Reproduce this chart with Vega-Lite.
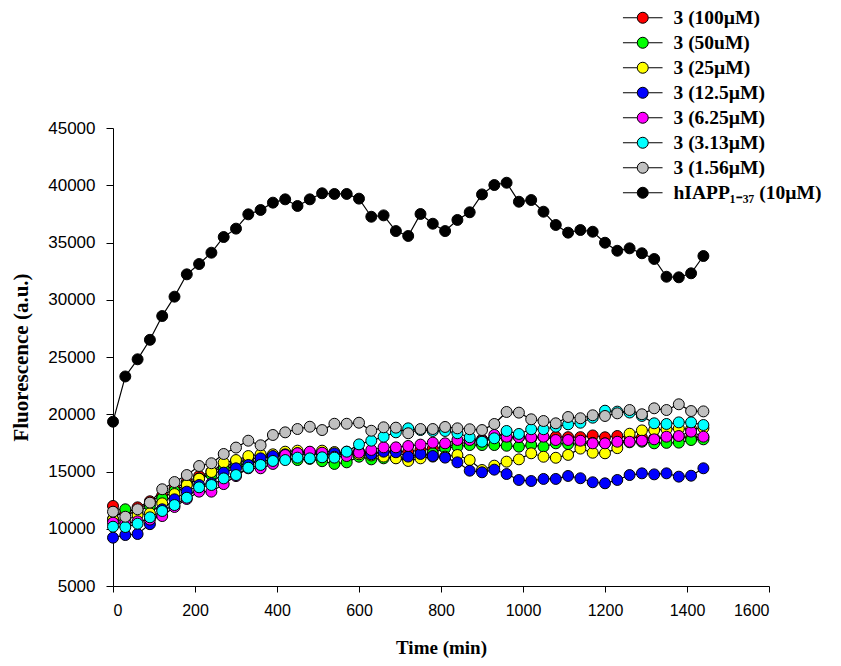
{
"$schema": "https://vega.github.io/schema/vega-lite/v6.json",
"width": 656, "height": 458,
"autosize": "none",
"padding": {"left": 113, "top": 128, "right": 72, "bottom": 80},
"config": {"view": {"stroke": null}, "axis": {"grid": false, "domainColor": "black", "tickColor": "black", "labelColor": "black", "titleColor": "black", "labelFont": "Liberation Sans", "labelFontSize": 16, "titleFont": "Liberation Serif", "titleFontWeight": "bold", "titleFontSize": 19}},
"datasets": {"d": [
{"s":"3 (100µM)","t":0,"v":11990},{"s":"3 (100µM)","t":30,"v":11400},{"s":"3 (100µM)","t":60,"v":11870},{"s":"3 (100µM)","t":90,"v":12400},{"s":"3 (100µM)","t":120,"v":12900},{"s":"3 (100µM)","t":150,"v":13500},{"s":"3 (100µM)","t":180,"v":14100},{"s":"3 (100µM)","t":210,"v":14610},{"s":"3 (100µM)","t":240,"v":15000},{"s":"3 (100µM)","t":270,"v":15400},{"s":"3 (100µM)","t":300,"v":15800},{"s":"3 (100µM)","t":330,"v":16000},{"s":"3 (100µM)","t":360,"v":16300},{"s":"3 (100µM)","t":390,"v":16400},{"s":"3 (100µM)","t":420,"v":16500},{"s":"3 (100µM)","t":450,"v":16400},{"s":"3 (100µM)","t":480,"v":16600},{"s":"3 (100µM)","t":510,"v":16500},{"s":"3 (100µM)","t":540,"v":16500},{"s":"3 (100µM)","t":570,"v":16600},{"s":"3 (100µM)","t":600,"v":16700},{"s":"3 (100µM)","t":630,"v":16600},{"s":"3 (100µM)","t":660,"v":16700},{"s":"3 (100µM)","t":690,"v":16800},{"s":"3 (100µM)","t":720,"v":16700},{"s":"3 (100µM)","t":750,"v":16900},{"s":"3 (100µM)","t":780,"v":17000},{"s":"3 (100µM)","t":810,"v":17100},{"s":"3 (100µM)","t":840,"v":17400},{"s":"3 (100µM)","t":870,"v":17600},{"s":"3 (100µM)","t":900,"v":17800},{"s":"3 (100µM)","t":930,"v":17900},{"s":"3 (100µM)","t":960,"v":17900},{"s":"3 (100µM)","t":990,"v":18000},{"s":"3 (100µM)","t":1020,"v":17900},{"s":"3 (100µM)","t":1050,"v":18000},{"s":"3 (100µM)","t":1080,"v":18040},{"s":"3 (100µM)","t":1110,"v":18000},{"s":"3 (100µM)","t":1140,"v":18000},{"s":"3 (100µM)","t":1170,"v":18150},{"s":"3 (100µM)","t":1200,"v":17990},{"s":"3 (100µM)","t":1230,"v":18100},{"s":"3 (100µM)","t":1260,"v":18000},{"s":"3 (100µM)","t":1290,"v":17950},{"s":"3 (100µM)","t":1320,"v":17900},{"s":"3 (100µM)","t":1350,"v":17950},{"s":"3 (100µM)","t":1380,"v":18000},{"s":"3 (100µM)","t":1410,"v":17950},{"s":"3 (100µM)","t":1440,"v":18000},
{"s":"3 (50uM)","t":0,"v":10850},{"s":"3 (50uM)","t":30,"v":11700},{"s":"3 (50uM)","t":60,"v":11500},{"s":"3 (50uM)","t":90,"v":11990},{"s":"3 (50uM)","t":120,"v":12660},{"s":"3 (50uM)","t":150,"v":13300},{"s":"3 (50uM)","t":180,"v":13900},{"s":"3 (50uM)","t":210,"v":14400},{"s":"3 (50uM)","t":240,"v":14700},{"s":"3 (50uM)","t":270,"v":15200},{"s":"3 (50uM)","t":300,"v":15500},{"s":"3 (50uM)","t":330,"v":15700},{"s":"3 (50uM)","t":360,"v":15900},{"s":"3 (50uM)","t":390,"v":16000},{"s":"3 (50uM)","t":420,"v":16100},{"s":"3 (50uM)","t":450,"v":16000},{"s":"3 (50uM)","t":480,"v":16100},{"s":"3 (50uM)","t":510,"v":15900},{"s":"3 (50uM)","t":540,"v":15660},{"s":"3 (50uM)","t":570,"v":15800},{"s":"3 (50uM)","t":600,"v":16290},{"s":"3 (50uM)","t":630,"v":16060},{"s":"3 (50uM)","t":660,"v":16150},{"s":"3 (50uM)","t":690,"v":16200},{"s":"3 (50uM)","t":720,"v":16100},{"s":"3 (50uM)","t":750,"v":16400},{"s":"3 (50uM)","t":780,"v":16600},{"s":"3 (50uM)","t":810,"v":17030},{"s":"3 (50uM)","t":840,"v":17170},{"s":"3 (50uM)","t":870,"v":17310},{"s":"3 (50uM)","t":900,"v":17310},{"s":"3 (50uM)","t":930,"v":17310},{"s":"3 (50uM)","t":960,"v":17250},{"s":"3 (50uM)","t":990,"v":17170},{"s":"3 (50uM)","t":1020,"v":17310},{"s":"3 (50uM)","t":1050,"v":17170},{"s":"3 (50uM)","t":1080,"v":17460},{"s":"3 (50uM)","t":1110,"v":17400},{"s":"3 (50uM)","t":1140,"v":17400},{"s":"3 (50uM)","t":1170,"v":17500},{"s":"3 (50uM)","t":1200,"v":17450},{"s":"3 (50uM)","t":1230,"v":17500},{"s":"3 (50uM)","t":1260,"v":17550},{"s":"3 (50uM)","t":1290,"v":17600},{"s":"3 (50uM)","t":1320,"v":17460},{"s":"3 (50uM)","t":1350,"v":17500},{"s":"3 (50uM)","t":1380,"v":17520},{"s":"3 (50uM)","t":1410,"v":17750},{"s":"3 (50uM)","t":1440,"v":17810},
{"s":"3 (25µM)","t":0,"v":10800},{"s":"3 (25µM)","t":30,"v":10700},{"s":"3 (25µM)","t":60,"v":11200},{"s":"3 (25µM)","t":90,"v":11350},{"s":"3 (25µM)","t":120,"v":12220},{"s":"3 (25µM)","t":150,"v":13030},{"s":"3 (25µM)","t":180,"v":13820},{"s":"3 (25µM)","t":210,"v":14370},{"s":"3 (25µM)","t":240,"v":14960},{"s":"3 (25µM)","t":270,"v":15770},{"s":"3 (25µM)","t":300,"v":16000},{"s":"3 (25µM)","t":330,"v":16350},{"s":"3 (25µM)","t":360,"v":16500},{"s":"3 (25µM)","t":390,"v":16500},{"s":"3 (25µM)","t":420,"v":16730},{"s":"3 (25µM)","t":450,"v":16820},{"s":"3 (25µM)","t":480,"v":16700},{"s":"3 (25µM)","t":510,"v":16820},{"s":"3 (25µM)","t":540,"v":16700},{"s":"3 (25µM)","t":570,"v":16600},{"s":"3 (25µM)","t":600,"v":16500},{"s":"3 (25µM)","t":630,"v":16400},{"s":"3 (25µM)","t":660,"v":16300},{"s":"3 (25µM)","t":690,"v":16150},{"s":"3 (25µM)","t":720,"v":15920},{"s":"3 (25µM)","t":750,"v":16150},{"s":"3 (25µM)","t":780,"v":16300},{"s":"3 (25µM)","t":810,"v":16300},{"s":"3 (25µM)","t":840,"v":16440},{"s":"3 (25µM)","t":870,"v":16000},{"s":"3 (25µM)","t":900,"v":15130},{"s":"3 (25µM)","t":930,"v":15510},{"s":"3 (25µM)","t":960,"v":15860},{"s":"3 (25µM)","t":990,"v":16060},{"s":"3 (25µM)","t":1020,"v":16590},{"s":"3 (25µM)","t":1050,"v":16290},{"s":"3 (25µM)","t":1080,"v":16200},{"s":"3 (25µM)","t":1110,"v":16450},{"s":"3 (25µM)","t":1140,"v":17000},{"s":"3 (25µM)","t":1170,"v":16640},{"s":"3 (25µM)","t":1200,"v":16590},{"s":"3 (25µM)","t":1230,"v":17040},{"s":"3 (25µM)","t":1260,"v":18300},{"s":"3 (25µM)","t":1290,"v":18590},{"s":"3 (25µM)","t":1320,"v":18620},{"s":"3 (25µM)","t":1350,"v":18700},{"s":"3 (25µM)","t":1380,"v":18750},{"s":"3 (25µM)","t":1410,"v":18700},{"s":"3 (25µM)","t":1440,"v":18800},
{"s":"3 (12.5µM)","t":0,"v":9220},{"s":"3 (12.5µM)","t":30,"v":9450},{"s":"3 (12.5µM)","t":60,"v":9540},{"s":"3 (12.5µM)","t":90,"v":10400},{"s":"3 (12.5µM)","t":120,"v":11700},{"s":"3 (12.5µM)","t":150,"v":12570},{"s":"3 (12.5µM)","t":180,"v":13240},{"s":"3 (12.5µM)","t":210,"v":13820},{"s":"3 (12.5µM)","t":240,"v":13970},{"s":"3 (12.5µM)","t":270,"v":14900},{"s":"3 (12.5µM)","t":300,"v":15280},{"s":"3 (12.5µM)","t":330,"v":15570},{"s":"3 (12.5µM)","t":360,"v":16150},{"s":"3 (12.5µM)","t":390,"v":16350},{"s":"3 (12.5µM)","t":420,"v":16500},{"s":"3 (12.5µM)","t":450,"v":16590},{"s":"3 (12.5µM)","t":480,"v":16640},{"s":"3 (12.5µM)","t":510,"v":16440},{"s":"3 (12.5µM)","t":540,"v":16590},{"s":"3 (12.5µM)","t":570,"v":16730},{"s":"3 (12.5µM)","t":600,"v":16730},{"s":"3 (12.5µM)","t":630,"v":16500},{"s":"3 (12.5µM)","t":660,"v":16730},{"s":"3 (12.5µM)","t":690,"v":16680},{"s":"3 (12.5µM)","t":720,"v":16300},{"s":"3 (12.5µM)","t":750,"v":16530},{"s":"3 (12.5µM)","t":780,"v":16350},{"s":"3 (12.5µM)","t":810,"v":16210},{"s":"3 (12.5µM)","t":840,"v":15800},{"s":"3 (12.5µM)","t":870,"v":15070},{"s":"3 (12.5µM)","t":900,"v":14930},{"s":"3 (12.5µM)","t":930,"v":15160},{"s":"3 (12.5µM)","t":960,"v":14780},{"s":"3 (12.5µM)","t":990,"v":14260},{"s":"3 (12.5µM)","t":1020,"v":14170},{"s":"3 (12.5µM)","t":1050,"v":14350},{"s":"3 (12.5µM)","t":1080,"v":14350},{"s":"3 (12.5µM)","t":1110,"v":14610},{"s":"3 (12.5µM)","t":1140,"v":14410},{"s":"3 (12.5µM)","t":1170,"v":14060},{"s":"3 (12.5µM)","t":1200,"v":13970},{"s":"3 (12.5µM)","t":1230,"v":14260},{"s":"3 (12.5µM)","t":1260,"v":14690},{"s":"3 (12.5µM)","t":1290,"v":14840},{"s":"3 (12.5µM)","t":1320,"v":14750},{"s":"3 (12.5µM)","t":1350,"v":14840},{"s":"3 (12.5µM)","t":1380,"v":14550},{"s":"3 (12.5µM)","t":1410,"v":14630},{"s":"3 (12.5µM)","t":1440,"v":15280},
{"s":"3 (6.25µM)","t":0,"v":10530},{"s":"3 (6.25µM)","t":30,"v":10440},{"s":"3 (6.25µM)","t":60,"v":10650},{"s":"3 (6.25µM)","t":90,"v":10800},{"s":"3 (6.25µM)","t":120,"v":11110},{"s":"3 (6.25µM)","t":150,"v":11900},{"s":"3 (6.25µM)","t":180,"v":12600},{"s":"3 (6.25µM)","t":210,"v":13240},{"s":"3 (6.25µM)","t":240,"v":13240},{"s":"3 (6.25µM)","t":270,"v":13900},{"s":"3 (6.25µM)","t":300,"v":14600},{"s":"3 (6.25µM)","t":330,"v":15280},{"s":"3 (6.25µM)","t":360,"v":15280},{"s":"3 (6.25µM)","t":390,"v":15660},{"s":"3 (6.25µM)","t":420,"v":16440},{"s":"3 (6.25µM)","t":450,"v":16600},{"s":"3 (6.25µM)","t":480,"v":16730},{"s":"3 (6.25µM)","t":510,"v":16640},{"s":"3 (6.25µM)","t":540,"v":16290},{"s":"3 (6.25µM)","t":570,"v":16350},{"s":"3 (6.25µM)","t":600,"v":16640},{"s":"3 (6.25µM)","t":630,"v":16880},{"s":"3 (6.25µM)","t":660,"v":17110},{"s":"3 (6.25µM)","t":690,"v":17110},{"s":"3 (6.25µM)","t":720,"v":17230},{"s":"3 (6.25µM)","t":750,"v":17350},{"s":"3 (6.25µM)","t":780,"v":17520},{"s":"3 (6.25µM)","t":810,"v":17460},{"s":"3 (6.25µM)","t":840,"v":17750},{"s":"3 (6.25µM)","t":870,"v":17750},{"s":"3 (6.25µM)","t":900,"v":17690},{"s":"3 (6.25µM)","t":930,"v":18190},{"s":"3 (6.25µM)","t":960,"v":18040},{"s":"3 (6.25µM)","t":990,"v":18000},{"s":"3 (6.25µM)","t":1020,"v":17990},{"s":"3 (6.25µM)","t":1050,"v":18040},{"s":"3 (6.25µM)","t":1080,"v":17750},{"s":"3 (6.25µM)","t":1110,"v":17750},{"s":"3 (6.25µM)","t":1140,"v":17690},{"s":"3 (6.25µM)","t":1170,"v":17460},{"s":"3 (6.25µM)","t":1200,"v":17460},{"s":"3 (6.25µM)","t":1230,"v":17600},{"s":"3 (6.25µM)","t":1260,"v":17600},{"s":"3 (6.25µM)","t":1290,"v":17690},{"s":"3 (6.25µM)","t":1320,"v":17810},{"s":"3 (6.25µM)","t":1350,"v":18040},{"s":"3 (6.25µM)","t":1380,"v":18100},{"s":"3 (6.25µM)","t":1410,"v":18480},{"s":"3 (6.25µM)","t":1440,"v":18040},
{"s":"3 (3.13µM)","t":0,"v":10180},{"s":"3 (3.13µM)","t":30,"v":10150},{"s":"3 (3.13µM)","t":60,"v":10440},{"s":"3 (3.13µM)","t":90,"v":11000},{"s":"3 (3.13µM)","t":120,"v":11550},{"s":"3 (3.13µM)","t":150,"v":12070},{"s":"3 (3.13µM)","t":180,"v":12710},{"s":"3 (3.13µM)","t":210,"v":13620},{"s":"3 (3.13µM)","t":240,"v":13820},{"s":"3 (3.13µM)","t":270,"v":14400},{"s":"3 (3.13µM)","t":300,"v":14690},{"s":"3 (3.13µM)","t":330,"v":15330},{"s":"3 (3.13µM)","t":360,"v":15570},{"s":"3 (3.13µM)","t":390,"v":15920},{"s":"3 (3.13µM)","t":420,"v":16000},{"s":"3 (3.13µM)","t":450,"v":16210},{"s":"3 (3.13µM)","t":480,"v":16150},{"s":"3 (3.13µM)","t":510,"v":16240},{"s":"3 (3.13µM)","t":540,"v":16210},{"s":"3 (3.13µM)","t":570,"v":16730},{"s":"3 (3.13µM)","t":600,"v":17370},{"s":"3 (3.13µM)","t":630,"v":17690},{"s":"3 (3.13µM)","t":660,"v":18040},{"s":"3 (3.13µM)","t":690,"v":18420},{"s":"3 (3.13µM)","t":720,"v":18770},{"s":"3 (3.13µM)","t":750,"v":18620},{"s":"3 (3.13µM)","t":780,"v":18540},{"s":"3 (3.13µM)","t":810,"v":18540},{"s":"3 (3.13µM)","t":840,"v":18340},{"s":"3 (3.13µM)","t":870,"v":17990},{"s":"3 (3.13µM)","t":900,"v":17600},{"s":"3 (3.13µM)","t":930,"v":17900},{"s":"3 (3.13µM)","t":960,"v":18540},{"s":"3 (3.13µM)","t":990,"v":18280},{"s":"3 (3.13µM)","t":1020,"v":18690},{"s":"3 (3.13µM)","t":1050,"v":18690},{"s":"3 (3.13µM)","t":1080,"v":18910},{"s":"3 (3.13µM)","t":1110,"v":19120},{"s":"3 (3.13µM)","t":1140,"v":19260},{"s":"3 (3.13µM)","t":1170,"v":19700},{"s":"3 (3.13µM)","t":1200,"v":20310},{"s":"3 (3.13µM)","t":1230,"v":20230},{"s":"3 (3.13µM)","t":1260,"v":20150},{"s":"3 (3.13µM)","t":1290,"v":19850},{"s":"3 (3.13µM)","t":1320,"v":19210},{"s":"3 (3.13µM)","t":1350,"v":19150},{"s":"3 (3.13µM)","t":1380,"v":19290},{"s":"3 (3.13µM)","t":1410,"v":19290},{"s":"3 (3.13µM)","t":1440,"v":19060},
{"s":"3 (1.56µM)","t":0,"v":11490},{"s":"3 (1.56µM)","t":30,"v":11050},{"s":"3 (1.56µM)","t":60,"v":11700},{"s":"3 (1.56µM)","t":90,"v":12280},{"s":"3 (1.56µM)","t":120,"v":13450},{"s":"3 (1.56µM)","t":150,"v":14080},{"s":"3 (1.56µM)","t":180,"v":14690},{"s":"3 (1.56µM)","t":210,"v":15480},{"s":"3 (1.56µM)","t":240,"v":15720},{"s":"3 (1.56µM)","t":270,"v":16530},{"s":"3 (1.56µM)","t":300,"v":17090},{"s":"3 (1.56µM)","t":330,"v":17690},{"s":"3 (1.56µM)","t":360,"v":17290},{"s":"3 (1.56µM)","t":390,"v":18190},{"s":"3 (1.56µM)","t":420,"v":18420},{"s":"3 (1.56µM)","t":450,"v":18710},{"s":"3 (1.56µM)","t":480,"v":18910},{"s":"3 (1.56µM)","t":510,"v":18620},{"s":"3 (1.56µM)","t":540,"v":19170},{"s":"3 (1.56µM)","t":570,"v":19170},{"s":"3 (1.56µM)","t":600,"v":19260},{"s":"3 (1.56µM)","t":630,"v":18560},{"s":"3 (1.56µM)","t":660,"v":18860},{"s":"3 (1.56µM)","t":690,"v":18830},{"s":"3 (1.56µM)","t":720,"v":18340},{"s":"3 (1.56µM)","t":750,"v":18710},{"s":"3 (1.56µM)","t":780,"v":18710},{"s":"3 (1.56µM)","t":810,"v":18890},{"s":"3 (1.56µM)","t":840,"v":18770},{"s":"3 (1.56µM)","t":870,"v":18690},{"s":"3 (1.56µM)","t":900,"v":18620},{"s":"3 (1.56µM)","t":930,"v":19150},{"s":"3 (1.56µM)","t":960,"v":20200},{"s":"3 (1.56µM)","t":990,"v":20140},{"s":"3 (1.56µM)","t":1020,"v":19560},{"s":"3 (1.56µM)","t":1050,"v":19410},{"s":"3 (1.56µM)","t":1080,"v":19210},{"s":"3 (1.56µM)","t":1110,"v":19760},{"s":"3 (1.56µM)","t":1140,"v":19650},{"s":"3 (1.56µM)","t":1170,"v":19910},{"s":"3 (1.56µM)","t":1200,"v":19850},{"s":"3 (1.56µM)","t":1230,"v":20080},{"s":"3 (1.56µM)","t":1260,"v":20370},{"s":"3 (1.56µM)","t":1290,"v":20000},{"s":"3 (1.56µM)","t":1320,"v":20520},{"s":"3 (1.56µM)","t":1350,"v":20370},{"s":"3 (1.56µM)","t":1380,"v":20870},{"s":"3 (1.56µM)","t":1410,"v":20280},{"s":"3 (1.56µM)","t":1440,"v":20250},
{"s":"hIAPP₁₋₃₇ (10µM)","t":0,"v":19350},{"s":"hIAPP₁₋₃₇ (10µM)","t":30,"v":23300},{"s":"hIAPP₁₋₃₇ (10µM)","t":60,"v":24800},{"s":"hIAPP₁₋₃₇ (10µM)","t":90,"v":26500},{"s":"hIAPP₁₋₃₇ (10µM)","t":120,"v":28580},{"s":"hIAPP₁₋₃₇ (10µM)","t":150,"v":30270},{"s":"hIAPP₁₋₃₇ (10µM)","t":180,"v":32220},{"s":"hIAPP₁₋₃₇ (10µM)","t":210,"v":33120},{"s":"hIAPP₁₋₃₇ (10µM)","t":240,"v":34110},{"s":"hIAPP₁₋₃₇ (10µM)","t":270,"v":35480},{"s":"hIAPP₁₋₃₇ (10µM)","t":300,"v":36210},{"s":"hIAPP₁₋₃₇ (10µM)","t":330,"v":37460},{"s":"hIAPP₁₋₃₇ (10µM)","t":360,"v":37840},{"s":"hIAPP₁₋₃₇ (10µM)","t":390,"v":38480},{"s":"hIAPP₁₋₃₇ (10µM)","t":420,"v":38770},{"s":"hIAPP₁₋₃₇ (10µM)","t":450,"v":38190},{"s":"hIAPP₁₋₃₇ (10µM)","t":480,"v":38770},{"s":"hIAPP₁₋₃₇ (10µM)","t":510,"v":39300},{"s":"hIAPP₁₋₃₇ (10µM)","t":540,"v":39240},{"s":"hIAPP₁₋₃₇ (10µM)","t":570,"v":39240},{"s":"hIAPP₁₋₃₇ (10µM)","t":600,"v":38830},{"s":"hIAPP₁₋₃₇ (10µM)","t":630,"v":37250},{"s":"hIAPP₁₋₃₇ (10µM)","t":660,"v":37370},{"s":"hIAPP₁₋₃₇ (10µM)","t":690,"v":36000},{"s":"hIAPP₁₋₃₇ (10µM)","t":720,"v":35570},{"s":"hIAPP₁₋₃₇ (10µM)","t":750,"v":37490},{"s":"hIAPP₁₋₃₇ (10µM)","t":780,"v":36640},{"s":"hIAPP₁₋₃₇ (10µM)","t":810,"v":36000},{"s":"hIAPP₁₋₃₇ (10µM)","t":840,"v":36970},{"s":"hIAPP₁₋₃₇ (10µM)","t":870,"v":37640},{"s":"hIAPP₁₋₃₇ (10µM)","t":900,"v":39200},{"s":"hIAPP₁₋₃₇ (10µM)","t":930,"v":40020},{"s":"hIAPP₁₋₃₇ (10µM)","t":960,"v":40220},{"s":"hIAPP₁₋₃₇ (10µM)","t":990,"v":38560},{"s":"hIAPP₁₋₃₇ (10µM)","t":1020,"v":38710},{"s":"hIAPP₁₋₃₇ (10µM)","t":1050,"v":37690},{"s":"hIAPP₁₋₃₇ (10µM)","t":1080,"v":36530},{"s":"hIAPP₁₋₃₇ (10µM)","t":1110,"v":35860},{"s":"hIAPP₁₋₃₇ (10µM)","t":1140,"v":36090},{"s":"hIAPP₁₋₃₇ (10µM)","t":1170,"v":35940},{"s":"hIAPP₁₋₃₇ (10µM)","t":1200,"v":34980},{"s":"hIAPP₁₋₃₇ (10µM)","t":1230,"v":34280},{"s":"hIAPP₁₋₃₇ (10µM)","t":1260,"v":34490},{"s":"hIAPP₁₋₃₇ (10µM)","t":1290,"v":34060},{"s":"hIAPP₁₋₃₇ (10µM)","t":1320,"v":33560},{"s":"hIAPP₁₋₃₇ (10µM)","t":1350,"v":32010},{"s":"hIAPP₁₋₃₇ (10µM)","t":1380,"v":31960},{"s":"hIAPP₁₋₃₇ (10µM)","t":1410,"v":32310},{"s":"hIAPP₁₋₃₇ (10µM)","t":1440,"v":33820}
]},
"data": {"name": "d"},
"encoding": {
  "x": {"field": "t", "type": "quantitative", "scale": {"domain": [0, 1600], "nice": false}, "axis": {"values": [0,200,400,600,800,1000,1200,1400,1600], "format": "d", "title": "Time (min)", "tickSize": 6, "labelPadding": 10, "titlePadding": 20}},
  "y": {"field": "v", "type": "quantitative", "scale": {"domain": [5000, 45000], "nice": false, "zero": false}, "axis": {"values": [5000,10000,15000,20000,25000,30000,35000,40000,45000], "format": "d", "title": "Fluorescence (a.u.)", "titleFontSize": 21, "labelFontSize": 17, "tickSize": 7, "labelPadding": 11, "titlePadding": 16}}
},
"layer": [
  {"mark": {"type": "line", "color": "black", "strokeWidth": 1.2}, "encoding": {"detail": {"field": "s"}}},
  {"mark": {"type": "point", "filled": true, "shape": "circle", "size": 120, "stroke": "black", "strokeWidth": 1, "opacity": 1},
   "encoding": {"fill": {"field": "s", "type": "nominal", "sort": null,
     "scale": {"domain": ["3 (100µM)","3 (50uM)","3 (25µM)","3 (12.5µM)","3 (6.25µM)","3 (3.13µM)","3 (1.56µM)","hIAPP₁₋₃₇ (10µM)"], "range": ["#ff0000","#00ff00","#ffff00","#0000ff","#ff00ff","#00ffff","#c0c0c0","#000000"]},
     "legend": {"orient": "none", "legendX": 520, "legendY": -120, "title": null, "padding": 0, "labelFont": "Liberation Serif", "labelFontWeight": "bold", "labelFontSize": 19.5, "labelColor": "black", "labelOffset": 21, "rowPadding": 4, "symbolType": "M-3.6,0H-1M1,0H3.6M1,0A1,1,0,1,1,-1,0A1,1,0,1,1,1,0Z", "symbolSize": 121, "symbolStrokeColor": "black", "symbolStrokeWidth": 1, "symbolOpacity": 1}}}}
]
}
